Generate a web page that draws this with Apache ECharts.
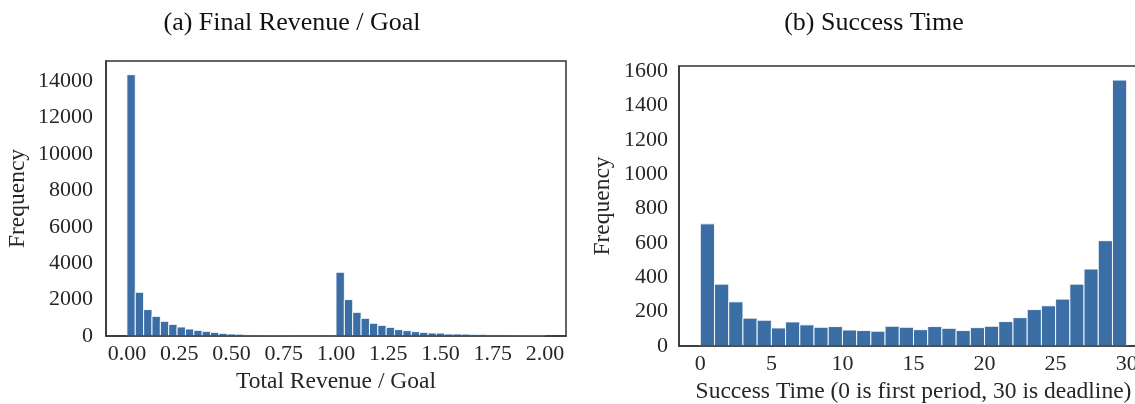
<!DOCTYPE html>
<html>
<head>
<meta charset="utf-8">
<script src="https://cdn.jsdelivr.net/npm/echarts@6/dist/echarts.min.js"></script>
<style>
html,body{margin:0;padding:0;background:#fff;}
#chart{width:1135px;height:404px;}
</style>
</head>
<body>
<div id="chart"></div>
<script>
// ---- Data ----
// (a) Final Revenue / Goal: histogram of 50 bins of width 0.04 starting at 0
const revBinStart = 0;
const revBinWidth = 0.04;
const revCounts = [14350, 2400, 1450, 1080, 805, 640, 495, 385, 310, 255,
                   200, 145, 110, 100, 60, 55, 40, 30, 15, 10,
                   8, 5, 3, 2, 0, 3500, 2000, 1300, 970, 700,
                   585, 475, 350, 295, 240, 200, 165, 160, 110, 110,
                   105, 90, 90, 60, 60, 55, 45, 35, 30, 30];
const revTicks = [0, 0.25, 0.5, 0.75, 1.0, 1.25, 1.5, 1.75, 2.0];
const revYTicks = [0, 2000, 4000, 6000, 8000, 10000, 12000, 14000];

// (b) Success Time: histogram of 30 bins of width 1 starting at 0
const timeBinStart = 0;
const timeBinWidth = 1;
const timeCounts = [711, 360, 257, 162, 150, 105, 140, 123, 109, 113,
                    93, 90, 86, 115, 109, 95, 113, 103, 90, 107,
                    115, 142, 165, 212, 234, 273, 360, 448, 613, 1548];
const timeTicks = [0, 5, 10, 15, 20, 25, 30];
const timeYTicks = [0, 200, 400, 600, 800, 1000, 1200, 1400, 1600];

// ---- Helpers ----
function histData(start, width, counts) {
  return counts.map((c, i) => [start + i * width, start + (i + 1) * width, c]);
}
const barColor = '#3a6ea5';
const textColor = '#262626';
const fontFamily = '"Liberation Serif", "DejaVu Serif", serif';

function renderBar(params, api) {
  const p0 = api.coord([api.value(0), api.value(2)]);
  const p1 = api.coord([api.value(1), 0]);
  return {
    type: 'rect',
    shape: { x: p0[0], y: p0[1], width: p1[0] - p0[0], height: p1[1] - p0[1] },
    style: { fill: barColor, stroke: '#ffffff', lineWidth: 0.9 }
  };
}

const chart = echarts.init(document.getElementById('chart'), null, { renderer: 'canvas' });

function xAxis(idx, min, max, ticks, fmt, name) {
  return {
    type: 'value', gridIndex: idx, min: min, max: max, z: 5,
    splitLine: { show: false },
    axisTick: { show: false },
    axisLine: { show: true, onZero: false, lineStyle: { color: '#333', width: 1.5 } },
    axisLabel: { customValues: ticks, formatter: fmt, color: textColor, fontSize: 22,
                 fontFamily: fontFamily, margin: 7, hideOverlap: false },
    name: name, nameLocation: 'middle', nameGap: 34,
    nameTextStyle: { color: textColor, fontSize: 23.5, fontFamily: fontFamily }
  };
}
function yAxis(idx, min, max, ticks, margin, gap) {
  return {
    type: 'value', gridIndex: idx, min: min, max: max, z: 5,
    splitLine: { show: false },
    axisTick: { show: false },
    axisLine: { show: true, onZero: false, lineStyle: { color: '#333', width: 1.5 } },
    axisLabel: { customValues: ticks, formatter: v => String(v), color: textColor, fontSize: 22,
                 fontFamily: fontFamily, margin: margin },
    name: 'Frequency', nameLocation: 'middle', nameGap: gap, nameRotate: 90,
    nameTextStyle: { color: textColor, fontSize: 23.5, fontFamily: fontFamily }
  };
}

chart.setOption({
  animation: false,
  backgroundColor: '#ffffff',
  grid: [
    { left: 106, top: 61, width: 460, bottom: 68, show: true, borderColor: '#333', borderWidth: 1.5,
      backgroundColor: 'transparent', containLabel: false, outerBoundsMode: 'none' },
    { left: 679, top: 66, width: 469, bottom: 58, show: true, borderColor: '#333', borderWidth: 1.5,
      backgroundColor: 'transparent', containLabel: false, outerBoundsMode: 'none' }
  ],
  xAxis: [
    xAxis(0, -0.1, 2.1, revTicks, v => v.toFixed(2), 'Total Revenue / Goal'),
    xAxis(1, -1.5, 31.5, timeTicks, v => String(v), 'Success Time (0 is first period, 30 is deadline)')
  ],
  yAxis: [
    yAxis(0, 0, 15100, revYTicks, 13, 76),
    yAxis(1, 0, 1630, timeYTicks, 11, 64)
  ],
  graphic: [
    { type: 'text', x: 292, y: 23, style: { text: '(a) Final Revenue / Goal', fill: '#111', fontSize: 26,
      fontFamily: fontFamily, textAlign: 'center', textVerticalAlign: 'middle' } },
    { type: 'text', x: 874, y: 23, style: { text: '(b) Success Time', fill: '#111', fontSize: 26,
      fontFamily: fontFamily, textAlign: 'center', textVerticalAlign: 'middle' } }
  ],
  series: [
    { type: 'custom', xAxisIndex: 0, yAxisIndex: 0, renderItem: renderBar,
      encode: { x: [0, 1], y: 2 }, data: histData(revBinStart, revBinWidth, revCounts) },
    { type: 'custom', xAxisIndex: 1, yAxisIndex: 1, renderItem: renderBar,
      encode: { x: [0, 1], y: 2 }, data: histData(timeBinStart, timeBinWidth, timeCounts) }
  ]
});
</script>
</body>
</html>
